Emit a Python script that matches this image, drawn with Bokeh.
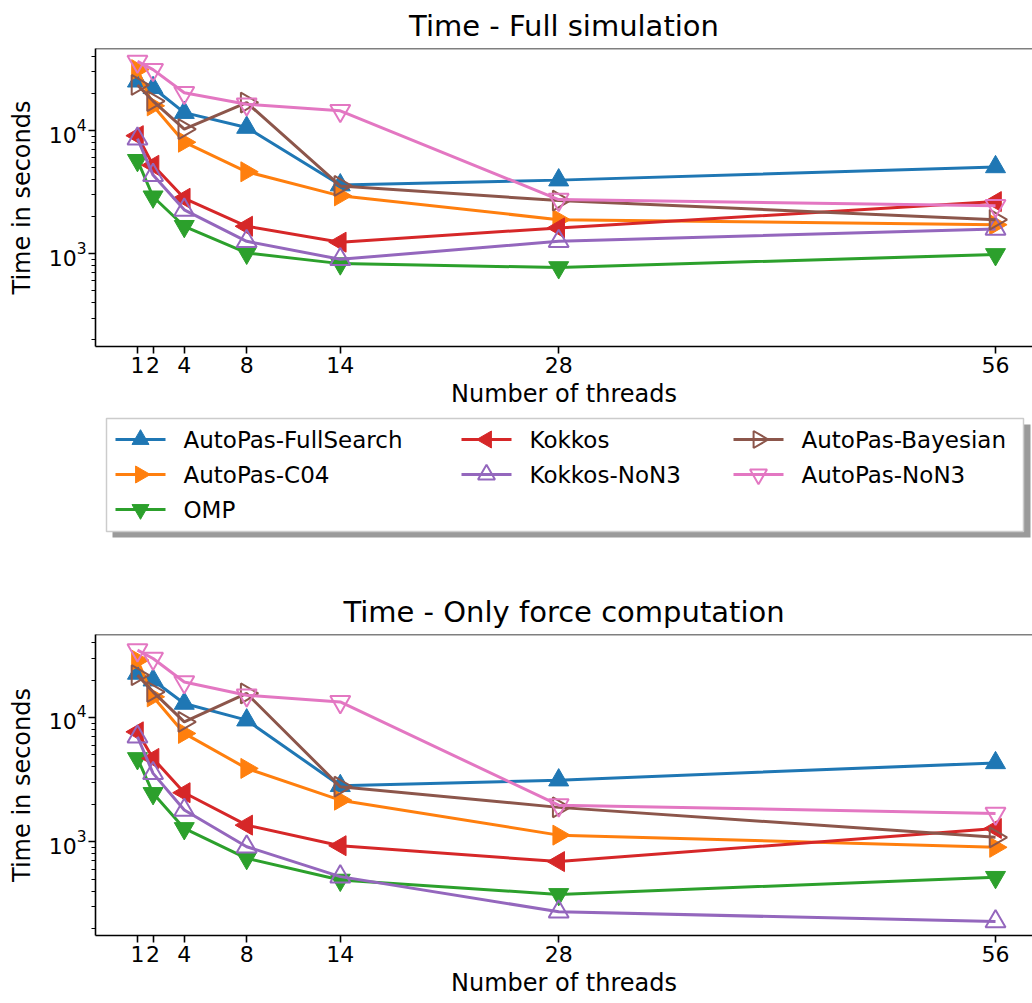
from math import pi

from bokeh.core.properties import value
from bokeh.embed import file_html
from bokeh.layouts import column
from bokeh.models import (ColumnDataSource, FixedTicker, LogTickFormatter,
                          Range1d, Span)
from bokeh.plotting import figure
from bokeh.resources import INLINE

# ---------------------------------------------------------------- data
threads = [1, 2, 4, 8, 14, 28, 56]
thread_ticks = [1, 2, 4, 8, 14, 28, 56]
time_major_ticks = [1e3, 1e4]
time_minor_ticks = [200, 300, 400, 500, 600, 700, 800, 900,
                    2000, 3000, 4000, 5000, 6000, 7000, 8000, 9000,
                    20000, 30000, 40000]

series_names = ["AutoPas-FullSearch", "AutoPas-C04", "OMP", "Kokkos",
                "Kokkos-NoN3", "AutoPas-Bayesian", "AutoPas-NoN3"]

# full simulation, seconds
full_fullsearch = [25200, 22300, 14000, 10600, 3610, 3960, 5070]
full_c04 = [31300, 15900, 8050, 4630, 2950, 1890, 1720]
full_omp = [5740, 2900, 1670, 1013, 830, 772, 986]
full_kokkos = [9100, 5230, 2820, 1670, 1240, 1620, 2650]
full_kokkos_non3 = [8600, 4350, 2270, 1260, 900, 1260, 1590]
full_bayesian = [23500, 17400, 10300, 16900, 3550, 2700, 1890]
full_non3 = [36500, 31300, 20300, 16400, 14500, 2750, 2450]

# force computation only, seconds
force_fullsearch = [22600, 19950, 12960, 9510, 2820, 3130, 4310]
force_c04 = [28900, 14650, 7440, 3890, 2160, 1130, 902]
force_omp = [4680, 2450, 1280, 736, 492, 377, 518]
force_kokkos = [7660, 4680, 2480, 1360, 929, 692, 1280]
force_kokkos_non3 = [6990, 3550, 1800, 912, 524, 273, 228]
force_bayesian = [21900, 16070, 9220, 15600, 2770, 1890, 1085]
force_non3 = [34800, 29800, 19300, 15100, 13340, 1970, 1690]

full_series = [full_fullsearch, full_c04, full_omp, full_kokkos,
               full_kokkos_non3, full_bayesian, full_non3]
force_series = [force_fullsearch, force_c04, force_omp, force_kokkos,
                force_kokkos_non3, force_bayesian, force_non3]

# ---------------------------------------------------------------- styles
FONT = "DejaVu Sans"
colors = ["#1f77b4", "#ff7f0e", "#2ca02c", "#d62728",
          "#9467bd", "#8c564b", "#e377c2"]
# (marker, rotation, hollow)
markers = [("triangle", 0.0, False),
           ("triangle", -pi / 2, False),
           ("inverted_triangle", 0.0, False),
           ("triangle", pi / 2, False),
           ("triangle", 0.0, True),
           ("triangle", -pi / 2, True),
           ("inverted_triangle", 0.0, True)]

Y_START, Y_END = 176, 46500
X_START, X_END = -1.69, 58.37
WIDTH = 1032
LEFT = 95


def add_series(p, xs, ys, color, marker, angle, hollow, size=20):
    src = ColumnDataSource(dict(x=xs, y=ys))
    p.line("x", "y", source=src, line_color=color, line_width=3)
    p.scatter("x", "y", source=src, marker=marker, angle=angle,
              size=size, line_color=color,
              fill_color=None if hollow else color,
              line_width=2 if hollow else 1)


def make_panel(title, series, height, border_top, border_bottom):
    p = figure(width=WIDTH, height=height, y_axis_type="log",
               x_range=Range1d(X_START, X_END),
               y_range=Range1d(Y_START, Y_END),
               toolbar_location=None, output_backend="svg",
               min_border_left=LEFT, min_border_right=0,
               min_border_top=border_top, min_border_bottom=border_bottom)
    p.title.text = title
    p.title.align = "center"
    p.title.text_font = FONT
    p.title.text_font_size = "29px"
    p.title.text_font_style = "normal"
    p.title.text_color = "black"
    p.title.standoff = 12
    p.title.offset = 0
    p.grid.visible = False
    p.outline_line_color = None
    p.background_fill_color = "white"
    p.border_fill_color = "white"

    for ax in (p.xaxis[0], p.yaxis[0]):
        ax.axis_line_width = 1.6
        ax.axis_line_color = "black"
        ax.major_tick_line_width = 1.6
        ax.major_tick_out = 7
        ax.major_tick_in = 0
        ax.minor_tick_line_width = 1.2
        ax.minor_tick_out = 4
        ax.minor_tick_in = 0
        ax.major_label_text_font = FONT
        ax.major_label_text_font_size = "22px"
        ax.major_label_text_color = "black"
        ax.axis_label_text_font = FONT
        ax.axis_label_text_font_size = "24px"
        ax.axis_label_text_font_style = "normal"
        ax.axis_label_text_color = "black"

    p.xaxis.ticker = FixedTicker(ticks=thread_ticks, minor_ticks=[])
    p.xaxis.axis_label = "Number of threads"
    p.xaxis.major_label_standoff = 3
    p.xaxis.axis_label_standoff = 4

    p.yaxis.ticker = FixedTicker(ticks=time_major_ticks,
                                 minor_ticks=time_minor_ticks)
    p.yaxis.formatter = LogTickFormatter()
    p.yaxis.axis_label = "Time in seconds"
    p.yaxis.major_label_standoff = 2
    p.yaxis.axis_label_standoff = 10

    # upper spine
    p.add_layout(Span(location=Y_END, dimension="width",
                      line_color="black", line_width=1.6))

    for ys, color, (mk, ang, hol) in zip(series, colors, markers):
        add_series(p, threads, ys, color, mk, ang, hol)
    return p


top = make_panel("Time - Full simulation", full_series, 410, 47, 62)
bottom = make_panel("Time - Only force computation", force_series,
                    443, 74, 68)

# ---------------------------------------------------------------- legend strip
# the frame is aligned with the panels, so data units are pixels here
LEG_H = 150
leg = figure(width=WIDTH, height=LEG_H, x_range=Range1d(LEFT, WIDTH),
             y_range=Range1d(LEG_H, 0), toolbar_location=None,
             output_backend="svg", min_border=0, min_border_left=LEFT,
             min_border_right=0, min_border_top=0, min_border_bottom=0,
             x_axis_location=None, y_axis_location=None)
leg.grid.visible = False
leg.outline_line_color = None

# drop shadow and frame of the legend box
leg.quad(left=[112], right=[1030], top=[14], bottom=[127],
         fill_color="#9a9a9a", line_color=None)
leg.quad(left=[106], right=[1023], top=[8], bottom=[121],
         fill_color="white", line_color="#cccccc", line_width=1.5)

# three columns of keys, filled column by column
col_x = [115, 461, 733]
row_y = [29, 64, 99]
per_col = [3, 2, 2]
KEY_W, KEY_PAD = 50, 18
slots = [(cx, row_y[r]) for cx, n in zip(col_x, per_col) for r in range(n)]

for name, color, (mk, ang, hol), (kx, ky) in zip(series_names, colors,
                                                  markers, slots):
    leg.segment(x0=[kx], y0=[ky], x1=[kx + KEY_W], y1=[ky],
                line_color=color, line_width=3)
    leg.scatter(x=[kx + KEY_W / 2], y=[ky], marker=mk, angle=ang, size=17,
                line_color=color, fill_color=None if hol else color,
                line_width=2 if hol else 1)
    leg.text(x=[kx + KEY_W + KEY_PAD], y=[ky], text=[name],
             text_font=value(FONT), text_font_size="23px",
             text_color="black", text_baseline="middle", text_align="left")

layout = column(top, leg, bottom, spacing=0)
open("out.html", "w").write(file_html(layout, INLINE))
